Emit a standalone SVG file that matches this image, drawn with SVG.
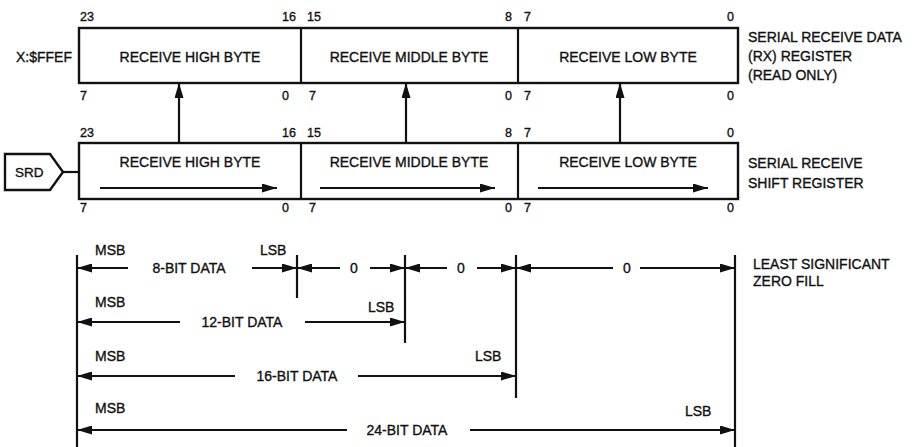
<svg xmlns="http://www.w3.org/2000/svg" width="912" height="447" viewBox="0 0 912 447">
<style>
text{font-family:"Liberation Sans",Arial,sans-serif;fill:#111;stroke:#111;stroke-width:0.35}
.lbl{font-size:14px}
.bit{font-size:12.5px}
.e{text-anchor:end}
.m{text-anchor:middle}
.box{fill:#fff;stroke:#111;stroke-width:2.4}
.ln{stroke:#111;stroke-width:2.2;fill:none}
.ar{stroke:#111;stroke-width:2.2;fill:none;marker-end:url(#ah)}
</style>
<defs>
<marker id="ah" markerUnits="userSpaceOnUse" markerWidth="15" markerHeight="9" refX="15" refY="4.5" orient="auto">
<path d="M0,0 L15,4.5 L0,9 Z" fill="#111"/>
</marker>
</defs>
<rect width="912" height="447" fill="#fff"/>

<g id="rx-register">
<rect class="box" x="79" y="28" width="659" height="55"/>
<line class="ln" x1="301" y1="28" x2="301" y2="83"/>
<line class="ln" x1="518" y1="28" x2="518" y2="83"/>
<text class="lbl m" x="190" y="62">RECEIVE HIGH BYTE</text>
<text class="lbl m" x="409" y="62">RECEIVE MIDDLE BYTE</text>
<text class="lbl m" x="628" y="62">RECEIVE LOW BYTE</text>
<text class="lbl e" x="72" y="62">X:$FFEF</text>
<text class="bit" x="80" y="21">23</text>
<text class="bit e" x="296" y="21">16</text>
<text class="bit" x="307" y="21">15</text>
<text class="bit e" x="512" y="21">8</text>
<text class="bit" x="524" y="21">7</text>
<text class="bit e" x="734" y="21">0</text>
<text class="bit" x="80" y="100">7</text>
<text class="bit e" x="289" y="100">0</text>
<text class="bit" x="309" y="100">7</text>
<text class="bit e" x="512" y="100">0</text>
<text class="bit" x="524" y="100">7</text>
<text class="bit e" x="734" y="100">0</text>
<text class="lbl" x="748" y="42">SERIAL RECEIVE DATA</text>
<text class="lbl" x="748" y="61">(RX) REGISTER</text>
<text class="lbl" x="748" y="80">(READ ONLY)</text>
</g>

<g id="shift-register">
<rect class="box" x="79" y="143" width="659" height="56"/>
<line class="ln" x1="301" y1="143" x2="301" y2="199"/>
<line class="ln" x1="518" y1="143" x2="518" y2="199"/>
<text class="lbl m" x="190" y="167">RECEIVE HIGH BYTE</text>
<text class="lbl m" x="409" y="167">RECEIVE MIDDLE BYTE</text>
<text class="lbl m" x="628" y="167">RECEIVE LOW BYTE</text>
<line class="ar" x1="100" y1="188" x2="277" y2="188"/>
<line class="ar" x1="320" y1="188" x2="495" y2="188"/>
<line class="ar" x1="538" y1="188" x2="708" y2="188"/>
<text class="bit" x="80" y="137">23</text>
<text class="bit e" x="296" y="137">16</text>
<text class="bit" x="307" y="137">15</text>
<text class="bit e" x="512" y="137">8</text>
<text class="bit" x="524" y="137">7</text>
<text class="bit e" x="734" y="137">0</text>
<text class="bit" x="80" y="212">7</text>
<text class="bit e" x="289" y="212">0</text>
<text class="bit" x="309" y="212">7</text>
<text class="bit e" x="512" y="212">0</text>
<text class="bit" x="524" y="212">7</text>
<text class="bit e" x="734" y="212">0</text>
<text class="lbl" x="748" y="168">SERIAL RECEIVE</text>
<text class="lbl" x="748" y="188">SHIFT REGISTER</text>
</g>

<g id="srd">
<path d="M5,154 L50,154 L63,172 L50,190 L5,190 Z" fill="#fff" stroke="#111" stroke-width="2.4"/>
<text x="15" y="177" style="font-size:13.5px">SRD</text>
</g>

<g id="connectors">
<line class="ln" x1="63" y1="172" x2="79" y2="172"/>
<line class="ar" x1="179" y1="143" x2="179" y2="83"/>
<line class="ar" x1="406" y1="143" x2="406" y2="83"/>
<line class="ar" x1="620" y1="143" x2="620" y2="83"/>
</g>

<g id="data-formats">
<line class="ln" x1="77" y1="255" x2="77" y2="447"/>
<line class="ln" x1="297" y1="255" x2="297" y2="298"/>
<line class="ln" x1="405" y1="255" x2="405" y2="343"/>
<line class="ln" x1="516" y1="255" x2="516" y2="398"/>
<line class="ln" x1="735" y1="255" x2="735" y2="447"/>

<line class="ar" x1="128" y1="268" x2="77" y2="268"/>
<line class="ar" x1="252" y1="268" x2="297" y2="268"/>
<line class="ar" x1="340" y1="268" x2="297" y2="268"/>
<line class="ar" x1="370" y1="268" x2="405" y2="268"/>
<line class="ar" x1="447" y1="268" x2="405" y2="268"/>
<line class="ar" x1="477" y1="268" x2="516" y2="268"/>
<line class="ar" x1="613" y1="268" x2="516" y2="268"/>
<line class="ar" x1="640" y1="268" x2="735" y2="268"/>

<line class="ar" x1="180" y1="322" x2="77" y2="322"/>
<line class="ar" x1="305" y1="322" x2="405" y2="322"/>

<line class="ar" x1="235" y1="376" x2="77" y2="376"/>
<line class="ar" x1="358" y1="376" x2="516" y2="376"/>

<line class="ar" x1="347" y1="430" x2="77" y2="430"/>
<line class="ar" x1="470" y1="430" x2="735" y2="430"/>

<text class="lbl" x="95" y="255">MSB</text>
<text class="lbl" x="260" y="255">LSB</text>
<text class="lbl m" x="189" y="273">8-BIT DATA</text>
<text class="lbl m" x="354" y="273">0</text>
<text class="lbl m" x="461" y="273">0</text>
<text class="lbl m" x="627" y="273">0</text>

<text class="lbl" x="95" y="307">MSB</text>
<text class="lbl" x="368" y="312">LSB</text>
<text class="lbl m" x="242" y="327">12-BIT DATA</text>

<text class="lbl" x="95" y="361">MSB</text>
<text class="lbl" x="475" y="361">LSB</text>
<text class="lbl m" x="297" y="381">16-BIT DATA</text>

<text class="lbl" x="95" y="413">MSB</text>
<text class="lbl" x="685" y="416">LSB</text>
<text class="lbl m" x="407" y="435">24-BIT DATA</text>

<text class="lbl" x="753" y="269">LEAST SIGNIFICANT</text>
<text class="lbl" x="753" y="286">ZERO FILL</text>
</g>
</svg>
